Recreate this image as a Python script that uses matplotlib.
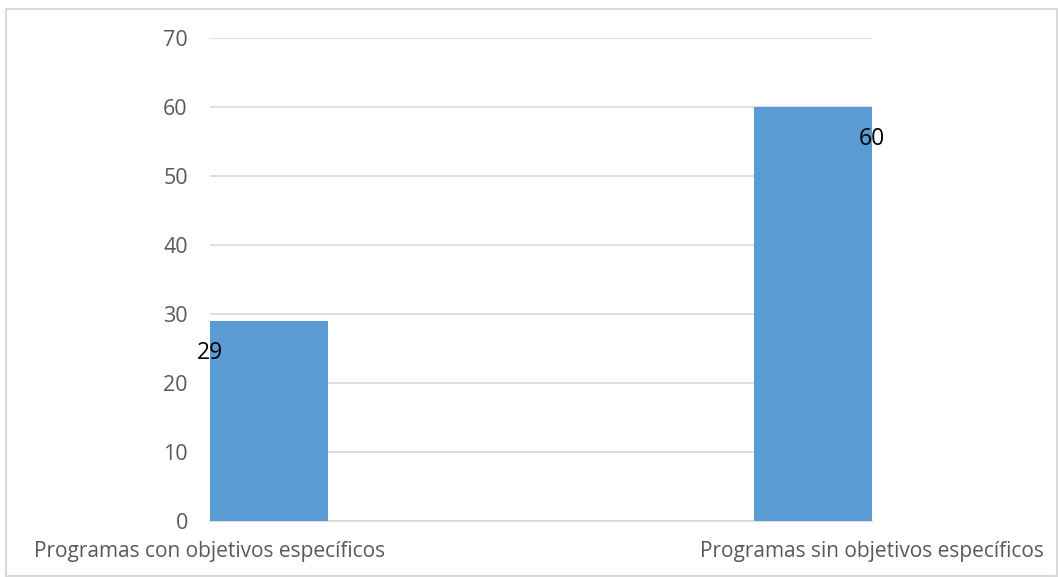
import matplotlib.pyplot as plt
from matplotlib.patches import Rectangle

categorias = ['Programas con objetivos específicos', 'Programas sin objetivos específicos']
valores = [29, 60]
yticks = [0, 10, 20, 30, 40, 50, 60, 70]

plt.rcParams['font.family'] = ['Open Sans', 'DejaVu Sans']

fig = plt.figure(figsize=(10.58, 5.77), dpi=100)
ax = fig.add_axes([210 / 1058, 1 - 521 / 577, 662 / 1058, 483 / 577])

w = 0.218
pos = list(range(len(valores)))
ax.bar(pos, valores, width=w, color='#5b9bd5', zorder=3)
ax.set_xlim(-w / 2, pos[-1] + w / 2)
ax.set_ylim(0, 70)
ax.set_yticks(yticks)
ax.grid(axis='y', color='#d9d9d9', linewidth=1.2, zorder=0)
for s in ['top', 'right', 'left']:
    ax.spines[s].set_visible(False)
ax.spines['bottom'].set_color('#d9d9d9')
ax.spines['bottom'].set_linewidth(1.2)
ax.tick_params(axis='y', length=0, pad=16, labelsize=15.5, labelcolor='#595959')
ax.set_xticks([])

# etiquetas de datos en los bordes de las barras (como en el original)
ax.annotate(str(valores[0]), (pos[0] - w / 2, valores[0]), xytext=(0, -23),
            textcoords='offset points', ha='center', va='center', fontsize=16.5, color='black')
ax.annotate(str(valores[1]), (pos[1] + w / 2, valores[1]), xytext=(0, -23),
            textcoords='offset points', ha='center', va='center', fontsize=16.5, color='black')

# etiquetas de categoria
ax.annotate(categorias[0], (pos[0] - w / 2, 0), xytext=(0, -22),
            textcoords='offset points', ha='center', va='center', fontsize=15, color='#595959')
ax.annotate(categorias[1], (pos[1] + w / 2, 0), xytext=(0, -22),
            textcoords='offset points', ha='center', va='center', fontsize=15, color='#595959')

fig.patches.append(Rectangle((6 / 1058, 1 / 577), 1051 / 1058, 567 / 577,
                             transform=fig.transFigure, fill=False,
                             edgecolor='#d9d9d9', linewidth=1.5))

fig.savefig('out.png', dpi=100)
